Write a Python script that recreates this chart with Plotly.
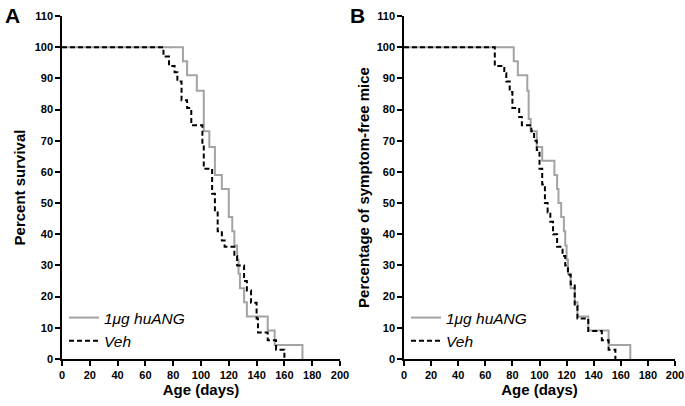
import plotly.graph_objects as go

# Panel A: Percent survival
a_ang_days = [0, 87, 90, 97, 102, 106, 110, 115, 120, 122.5, 124, 126, 127, 128, 131, 133, 148, 153, 173]
a_ang_vals = [100, 95.5, 91, 86, 73, 68, 59, 54.5, 45.5, 41, 36.4, 31.8, 27.3, 22.7, 18.2, 13.6, 9.1, 4.5, 0]
a_veh_days = [0, 73, 77, 81, 83, 86, 90, 93, 101, 102, 108, 110, 112, 115, 117, 124, 126, 131, 133, 136, 140, 141, 148, 154, 160]
a_veh_vals = [100, 97, 94, 92, 89, 83, 80.5, 75, 69, 61, 53, 47, 41, 38, 36, 33, 30, 25, 22, 18, 13, 8.5, 6, 3, 0]

# Panel B: Percentage of symptom-free mice
b_ang_days = [0, 81, 84, 91, 92, 93.5, 98, 102, 111, 113, 114, 116, 118, 119, 120, 121, 123, 126, 128, 136, 151, 167]
b_ang_vals = [100, 95.5, 91, 86, 77, 73, 68, 63.6, 59, 54.5, 50, 45.5, 41, 36.4, 31.8, 27.3, 22.7, 18.2, 13.6, 9.1, 4.5, 0]
b_veh_days = [0, 67, 74, 75.5, 78, 80, 85, 87, 94, 96, 98, 100, 102, 104, 106, 108, 110, 113, 117, 119, 121, 123, 126, 128, 136, 146, 151, 156]
b_veh_vals = [100, 94, 91.6, 89, 85.6, 80.5, 77.6, 75, 73, 70, 67, 61, 56, 50, 47, 44, 40, 36, 33, 30, 27, 24, 17, 13, 9, 6, 3, 0]

series_names = ["1μg huANG", "Veh"]
x_ticks = list(range(0, 201, 20))
y_ticks = list(range(0, 111, 10))

GRAY = "#a3a3a3"
BLACK = "#000000"
FONT = "Liberation Sans, Arial, sans-serif"

fig = go.Figure()
fig.add_trace(go.Scatter(x=a_ang_days, y=a_ang_vals, mode="lines", line=dict(shape="hv", color=GRAY, width=2),
                         name="<i>" + series_names[0] + "</i>", xaxis="x", yaxis="y", legend="legend"))
fig.add_trace(go.Scatter(x=a_veh_days, y=a_veh_vals, mode="lines", line=dict(shape="hv", color=BLACK, width=2, dash="5px,3px"),
                         name="<i>" + series_names[1] + "</i>", xaxis="x", yaxis="y", legend="legend"))
fig.add_trace(go.Scatter(x=b_ang_days, y=b_ang_vals, mode="lines", line=dict(shape="hv", color=GRAY, width=2),
                         name="<i>" + series_names[0] + "</i>", xaxis="x2", yaxis="y2", legend="legend2"))
fig.add_trace(go.Scatter(x=b_veh_days, y=b_veh_vals, mode="lines", line=dict(shape="hv", color=BLACK, width=2, dash="5px,3px"),
                         name="<i>" + series_names[1] + "</i>", xaxis="x2", yaxis="y2", legend="legend2"))

W, H = 685, 406
ydom = [1 - 359 / H, 1 - 16 / H]
axis_common = dict(showline=True, linecolor="black", linewidth=1.5, ticks="outside", ticklen=5, tickwidth=1.5,
                   tickcolor="black", showgrid=False, zeroline=False, automargin=False,
                   tickfont=dict(family=FONT, size=11, color="black", weight="bold"))
xa = dict(axis_common, range=[0, 200], tickvals=x_ticks, ticklabeloverflow="allow",
          title=dict(text="<b>Age (days)</b>", font=dict(family=FONT, size=15, color="black"), standoff=3))
fig.update_layout(
    width=W, height=H, margin=dict(l=0, r=0, t=0, b=0),
    paper_bgcolor="white", plot_bgcolor="white",
    xaxis=dict(xa, domain=[62 / W, 340 / W], anchor="y"),
    yaxis=dict(axis_common, range=[0, 110], tickvals=y_ticks, domain=ydom, anchor="x",
               title=dict(text="<b>Percent survival</b>", font=dict(family=FONT, size=15, color="black"), standoff=5)),
    xaxis2=dict(xa, domain=[404 / W, 675 / W], anchor="y2"),
    yaxis2=dict(axis_common, range=[0, 110], tickvals=y_ticks, domain=ydom, anchor="x2",
                title=dict(text="<b>Percentage of symptom-free mice</b>", font=dict(family=FONT, size=15, color="black"), standoff=3)),
    legend=dict(x=64 / W, y=1 - 301 / H, xanchor="left", yanchor="top", bgcolor="rgba(0,0,0,0)",
                font=dict(family=FONT, size=15.5, color="black"), tracegroupgap=0, itemwidth=30),
    legend2=dict(x=406 / W, y=1 - 301 / H, xanchor="left", yanchor="top", bgcolor="rgba(0,0,0,0)",
                 font=dict(family=FONT, size=15.5, color="black"), tracegroupgap=0, itemwidth=30),
    annotations=[
        dict(text="<b>A</b>", x=3 / W, y=1 - 2 / H, xref="paper", yref="paper", xanchor="left", yanchor="top",
             showarrow=False, font=dict(family=FONT, size=21, color="black")),
        dict(text="<b>B</b>", x=348 / W, y=1 - 2 / H, xref="paper", yref="paper", xanchor="left", yanchor="top",
             showarrow=False, font=dict(family=FONT, size=21, color="black")),
    ],
)
fig.write_html("out.html", config={"displayModeBar": False}, post_script="document.body.style.margin='0';")
